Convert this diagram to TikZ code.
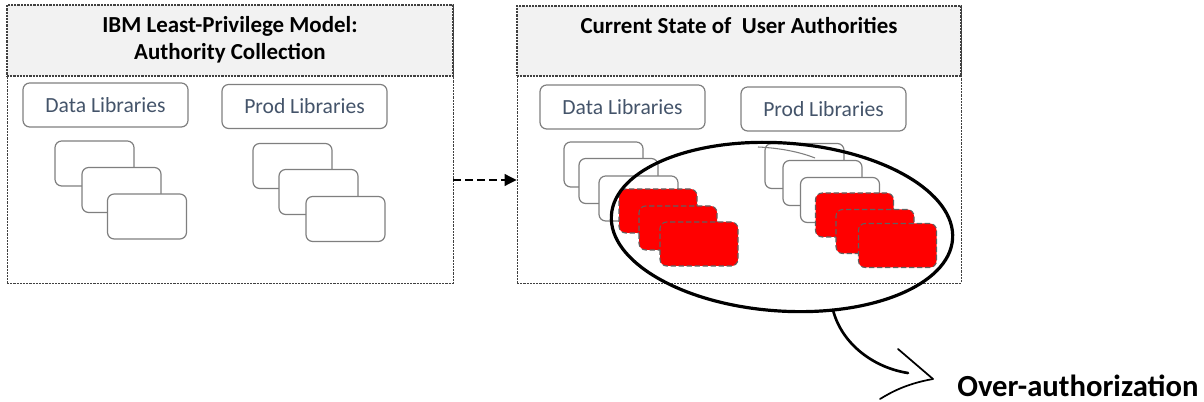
\documentclass[tikz,border=0pt]{standalone}
\usepackage{fontspec}
\setmainfont{Carlito}
\usetikzlibrary{arrows.meta}
\definecolor{libtext}{HTML}{44546A}
\definecolor{boxgray}{HTML}{7F7F7F}
\definecolor{hdrfill}{HTML}{F2F2F2}
\definecolor{borderdark}{HTML}{404040}
\definecolor{dashgray}{HTML}{606060}
\begin{document}
\begin{tikzpicture}[x=0.75pt,y=-0.75pt,
  panelbox/.style={draw=borderdark, line width=0.7pt, dash pattern=on 1.6pt off 0.8pt, minimum width=334.5pt, minimum height=208.5pt, inner sep=0pt},
  hdrbox/.style={draw=borderdark, fill=hdrfill, line width=0.8pt, dash pattern=on 1.6pt off 0.8pt, inner sep=0pt},
  titletext/.style={font=\bfseries\fontsize{17.2}{20.5}\selectfont, align=center, inner sep=0pt},
  libbox/.style={draw=boxgray, line width=0.9pt, rounded corners=5pt, minimum width=123.75pt, minimum height=33pt, text=libtext, font=\fontsize{16.2}{18}\selectfont, inner sep=0pt},
  sbox/.style={draw=boxgray, line width=0.9pt, fill=white, rounded corners=5pt, minimum width=59.25pt, minimum height=33.75pt, inner sep=0pt},
  rbox/.style={draw=dashgray, line width=0.8pt, dash pattern=on 4pt off 2pt, fill=red, rounded corners=5pt, minimum width=58.5pt, minimum height=33pt, inner sep=0pt},
  ovline/.style={draw=black, line width=2.4pt},
  callout/.style={draw=black, line width=2pt, line cap=round},
  overtext/.style={font=\bfseries\fontsize{23}{26}\selectfont, anchor=west, inner sep=0pt}
]
\useasboundingbox (0,0) rectangle (1204,402);

% left panel
\node[panelbox, minimum width=334.5pt, minimum height=208.5pt] (lp) at (230,144) {};
\node[hdrbox, minimum width=334.5pt, minimum height=53.25pt] (lh) at (230,40.5) {};
\node[titletext] (lt) at (230,40) {IBM Least-Privilege Model:\\Authority Collection};
\node[libbox] (dl1) at (105.5,105) {Data Libraries};
\node[libbox] (pl1) at (304.5,106.5) {Prod Libraries};
\node[sbox] (a1) at (94.5,163.5) {};
\node[sbox] (a2) at (121.5,190) {};
\node[sbox] (a3) at (147,216.5) {};
\node[sbox] (b1) at (292.5,166) {};
\node[sbox] (b2) at (318.5,192) {};
\node[sbox] (b3) at (345.5,219) {};

% right panel
\node[panelbox, minimum width=333pt, minimum height=207.75pt] (rp) at (739,144.5) {};
\node[hdrbox, minimum width=333pt, minimum height=52.5pt] (rh) at (739,41) {};
\node[titletext] (rt) at (739,26) {Current State of\ \ User Authorities};
\node[libbox] (dl2) at (622.5,107) {Data Libraries};
\node[libbox] (pl2) at (823.5,109) {Prod Libraries};
\node[sbox] (c1) at (603.5,164.5) {};
\node[sbox] (c2) at (618.5,181) {};
\node[sbox] (c3) at (638.5,198.5) {};
\node[rbox] (cr1) at (658,211) {};
\node[rbox] (cr2) at (678,228) {};
\node[rbox] (cr3) at (699,244) {};
\node[sbox] (d1) at (804.5,166) {};
\node[sbox] (d2) at (822.5,183) {};
\node[sbox] (d3) at (840,200) {};
\node[rbox] (dr1) at (854.5,215) {};
\node[rbox] (dr2) at (875,231.5) {};
\node[rbox] (dr3) at (897.5,245.5) {};

% dashed arrow
\coordinate (ay) at (0,180);
\draw[black, line width=0.8pt, dash pattern=on 6pt off 3pt, -{Triangle[length=9pt,width=9pt]}] (lp.east |- ay) -- (rp.west |- ay);

% over-authorization ellipse
\begin{scope}[rotate around={-4:(782,227)}]
\draw[ovline] (782,227) ellipse [x radius=171, y radius=84];
\end{scope}
\draw[boxgray, line width=0.8pt] (758,147) .. controls (780,148) and (800,152) .. (815,158);

\node[overtext] (oa) at (957,386) {Over-authorization};
\coordinate (cs) at (833,310);
\coordinate (ce) at (908,373);
\coordinate (tip) at (933,379);
\coordinate (hu) at (898,349);
\coordinate (hl) at (880,399);
\draw[callout] (cs) .. controls (842,345) and (875,368) .. (ce);
\draw[callout, line width=1.3pt] (hu) -- (tip);
\draw[callout, line width=1.3pt] (tip) .. controls (905,384) and (890,393) .. (hl);
\end{tikzpicture}
\end{document}
